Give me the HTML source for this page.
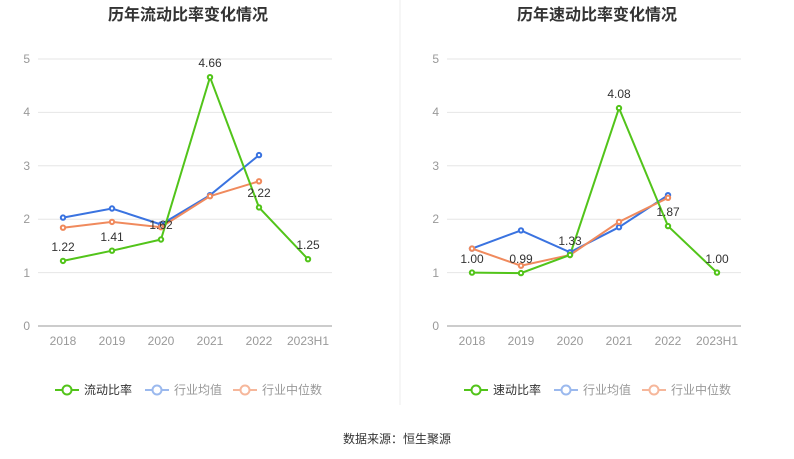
<!DOCTYPE html>
<html><head><meta charset="utf-8"><style>
body{margin:0;background:#fff;}
svg{display:block;font-family:"Liberation Sans","Noto Sans CJK SC",sans-serif;}
</style></head><body>
<svg width="794" height="459" viewBox="0 0 794 459">
<line x1="400" y1="0" x2="400" y2="405" stroke="#eee"/>
<text x="188" y="20" text-anchor="middle" font-size="16" font-weight="bold" fill="#333">历年流动比率变化情况</text>
<text x="597" y="20" text-anchor="middle" font-size="16" font-weight="bold" fill="#333">历年速动比率变化情况</text>
<g font-size="12" fill="#999">
<g id="gridL" stroke="#e6e6e6">
<line x1="38" y1="59" x2="332" y2="59"/><line x1="38" y1="112.4" x2="332" y2="112.4"/><line x1="38" y1="165.8" x2="332" y2="165.8"/><line x1="38" y1="219.2" x2="332" y2="219.2"/><line x1="38" y1="272.6" x2="332" y2="272.6"/>
<line x1="447" y1="59" x2="741" y2="59"/><line x1="447" y1="112.4" x2="741" y2="112.4"/><line x1="447" y1="165.8" x2="741" y2="165.8"/><line x1="447" y1="219.2" x2="741" y2="219.2"/><line x1="447" y1="272.6" x2="741" y2="272.6"/>
</g>
<line x1="38" y1="326" x2="332" y2="326" stroke="#999"/>
<line x1="447" y1="326" x2="741" y2="326" stroke="#999"/>
<g text-anchor="end">
<text x="30" y="330">0</text><text x="30" y="277">1</text><text x="30" y="223">2</text><text x="30" y="170">3</text><text x="30" y="116">4</text><text x="30" y="63">5</text>
<text x="439" y="330">0</text><text x="439" y="277">1</text><text x="439" y="223">2</text><text x="439" y="170">3</text><text x="439" y="116">4</text><text x="439" y="63">5</text>
</g>
<g text-anchor="middle">
<text x="63" y="345">2018</text><text x="112" y="345">2019</text><text x="161" y="345">2020</text><text x="210" y="345">2021</text><text x="259" y="345">2022</text><text x="308" y="345">2023H1</text>
<text x="472" y="345">2018</text><text x="521" y="345">2019</text><text x="570" y="345">2020</text><text x="619" y="345">2021</text><text x="668" y="345">2022</text><text x="717" y="345">2023H1</text>
</g>
</g>
<g fill="#fff" stroke-width="2">
<polyline fill="none" stroke="#3a73e0" points="63,217.6 112,208.5 161,224.5 210,195.2 259,155.1"/>
<polyline fill="none" stroke="#f08a5d" points="63,227.7 112,221.9 161,227.2 210,196.2 259,181.3"/>
<polyline fill="none" stroke="#52c41a" points="63,260.9 112,250.7 161,239.5 210,77.2 259,207.4 308,259.2"/>
<g stroke="#3a73e0"><circle cx="63" cy="217.6" r="2.2"/><circle cx="112" cy="208.5" r="2.2"/><circle cx="161" cy="224.5" r="2.2"/><circle cx="210" cy="195.2" r="2.2"/><circle cx="259" cy="155.1" r="2.2"/></g>
<g stroke="#f08a5d"><circle cx="63" cy="227.7" r="2.2"/><circle cx="112" cy="221.9" r="2.2"/><circle cx="161" cy="227.2" r="2.2"/><circle cx="210" cy="196.2" r="2.2"/><circle cx="259" cy="181.3" r="2.2"/></g>
<g stroke="#52c41a"><circle cx="63" cy="260.9" r="2.2"/><circle cx="112" cy="250.7" r="2.2"/><circle cx="161" cy="239.5" r="2.2"/><circle cx="210" cy="77.2" r="2.2"/><circle cx="259" cy="207.4" r="2.2"/><circle cx="308" cy="259.2" r="2.2"/></g>

<polyline fill="none" stroke="#3a73e0" points="472,248.6 521,230.4 570,252.3 619,227.2 668,195.2"/>
<polyline fill="none" stroke="#f08a5d" points="472,248.6 521,265.7 570,255 619,221.9 668,197.8"/>
<polyline fill="none" stroke="#52c41a" points="472,272.6 521,273.1 570,255 619,108.1 668,226.1 717,272.6"/>
<g stroke="#3a73e0"><circle cx="472" cy="248.6" r="2.2"/><circle cx="521" cy="230.4" r="2.2"/><circle cx="570" cy="252.3" r="2.2"/><circle cx="619" cy="227.2" r="2.2"/><circle cx="668" cy="195.2" r="2.2"/></g>
<g stroke="#f08a5d"><circle cx="472" cy="248.6" r="2.2"/><circle cx="521" cy="265.7" r="2.2"/><circle cx="570" cy="255" r="2.2"/><circle cx="619" cy="221.9" r="2.2"/><circle cx="668" cy="197.8" r="2.2"/></g>
<g stroke="#52c41a"><circle cx="472" cy="272.6" r="2.2"/><circle cx="521" cy="273.1" r="2.2"/><circle cx="570" cy="255" r="2.2"/><circle cx="619" cy="108.1" r="2.2"/><circle cx="668" cy="226.1" r="2.2"/><circle cx="717" cy="272.6" r="2.2"/></g>
</g>
<g font-size="12" fill="#333" text-anchor="middle">
<text x="63" y="251">1.22</text><text x="112" y="241">1.41</text><text x="161" y="229">1.62</text><text x="210" y="67">4.66</text><text x="259" y="197">2.22</text><text x="308" y="249">1.25</text>
<text x="472" y="263">1.00</text><text x="521" y="263">0.99</text><text x="570" y="245">1.33</text><text x="619" y="98">4.08</text><text x="668" y="216">1.87</text><text x="717" y="263">1.00</text>
</g>
<g font-size="12" fill="#333">
<line x1="55" y1="390" x2="79" y2="390" stroke="#52c41a" stroke-width="2"/><circle cx="67" cy="390" r="4.5" fill="#fff" stroke="#52c41a" stroke-width="2"/><text x="84" y="394">流动比率</text>
<line x1="145" y1="390" x2="169" y2="390" stroke="#9bb9ee" stroke-width="2"/><circle cx="157" cy="390" r="4.5" fill="#fff" stroke="#9bb9ee" stroke-width="2"/><text x="174" y="394" fill="#999">行业均值</text>
<line x1="233" y1="390" x2="257" y2="390" stroke="#f6b79b" stroke-width="2"/><circle cx="245" cy="390" r="4.5" fill="#fff" stroke="#f6b79b" stroke-width="2"/><text x="262" y="394" fill="#999">行业中位数</text>
<line x1="464" y1="390" x2="488" y2="390" stroke="#52c41a" stroke-width="2"/><circle cx="476" cy="390" r="4.5" fill="#fff" stroke="#52c41a" stroke-width="2"/><text x="493" y="394">速动比率</text>
<line x1="554" y1="390" x2="578" y2="390" stroke="#9bb9ee" stroke-width="2"/><circle cx="566" cy="390" r="4.5" fill="#fff" stroke="#9bb9ee" stroke-width="2"/><text x="583" y="394" fill="#999">行业均值</text>
<line x1="642" y1="390" x2="666" y2="390" stroke="#f6b79b" stroke-width="2"/><circle cx="654" cy="390" r="4.5" fill="#fff" stroke="#f6b79b" stroke-width="2"/><text x="671" y="394" fill="#999">行业中位数</text>
</g>
<text x="397" y="443" text-anchor="middle" font-size="12" fill="#333">数据来源：恒生聚源</text>
</svg>
</body></html>
